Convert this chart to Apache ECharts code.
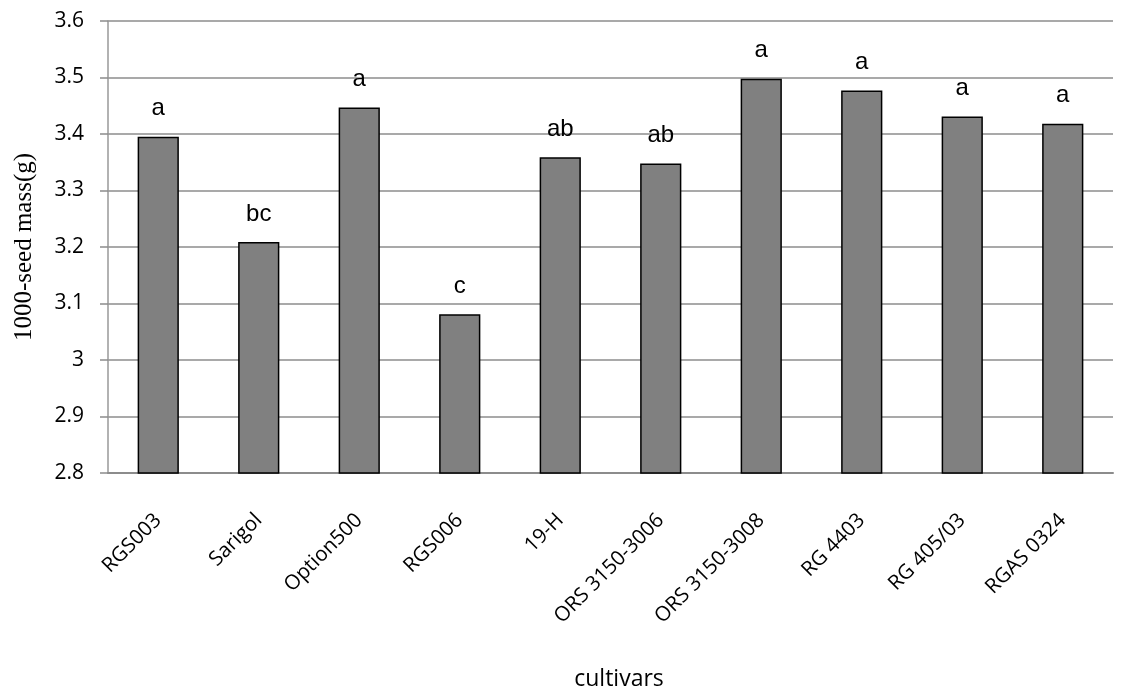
<!DOCTYPE html>
<html><head><meta charset="utf-8">
<script src="https://cdn.jsdelivr.net/npm/echarts@6/dist/echarts.min.js"></script>
<style>html,body{margin:0;padding:0;background:#fff}#c{width:1123px;height:691px}</style>
</head><body><div id="c"></div>
<script>
const categories = ["RGS003","Sarigol","Option500","RGS006","19-H","ORS 3150-3006","ORS 3150-3008","RG 4403","RG 405/03","RGAS 0324"];
const values = [3.395, 3.209, 3.447, 3.081, 3.359, 3.348, 3.498, 3.477, 3.431, 3.418];
const letters = ["a","bc","a","c","ab","ab","a","a","a","a"];
const yTicks = [2.8, 2.9, 3, 3.1, 3.2, 3.3, 3.4, 3.5, 3.6];
const xTitle = 'cultivars';
const yTitle = '1000-seed mass(g)';

const chart = echarts.init(document.getElementById('c'));
chart.setOption({
  animation: false,
  backgroundColor: '#fff',
  graphic: [{type: 'text', x: 619, y: 679,
    style: {text: xTitle, align: 'center', verticalAlign: 'middle', fontFamily: 'Open Sans', fontSize: 23, fill: '#000'}}],
  grid: {left: 108, right: 10, top: 21, bottom: 218, containLabel: false},
  xAxis: {
    type: 'category', data: categories,
    axisLine: {lineStyle: {color: '#8c8c8c', width: 2}},
    axisTick: {show: false},
    axisLabel: {rotate: 45, margin: 44, fontFamily: 'Open Sans', fontSize: 20.5, color: '#000', interval: 0}
  },
  yAxis: {
    type: 'value', min: 2.8, max: 3.6, interval: 0.1,
    name: yTitle, nameLocation: 'middle', nameGap: 71,
    nameTextStyle: {fontFamily: 'Liberation Serif', fontSize: 25, color: '#000'},
    axisLine: {show: true, lineStyle: {color: '#999', width: 1.5}},
    axisTick: {show: true, length: 8, lineStyle: {color: '#8c8c8c', width: 1.5}},
    splitLine: {lineStyle: {color: '#8c8c8c', width: 1.5}},
    axisLabel: {margin: 24, fontFamily: 'Open Sans', fontSize: 21, color: '#000',
      formatter: v => { const t = yTicks.find(x => Math.abs(x - v) < 1e-6); return t === undefined ? '' : String(t); }}
  },
  series: [{
    type: 'bar', data: values, barWidth: '41%',
    itemStyle: {color: '#808080', borderColor: '#000', borderWidth: 1.5},
    label: {show: true, position: 'top', distance: 16,
      formatter: p => letters[p.dataIndex],
      fontFamily: 'Liberation Sans', fontSize: 24, color: '#000'}
  }]
});
</script></body></html>
